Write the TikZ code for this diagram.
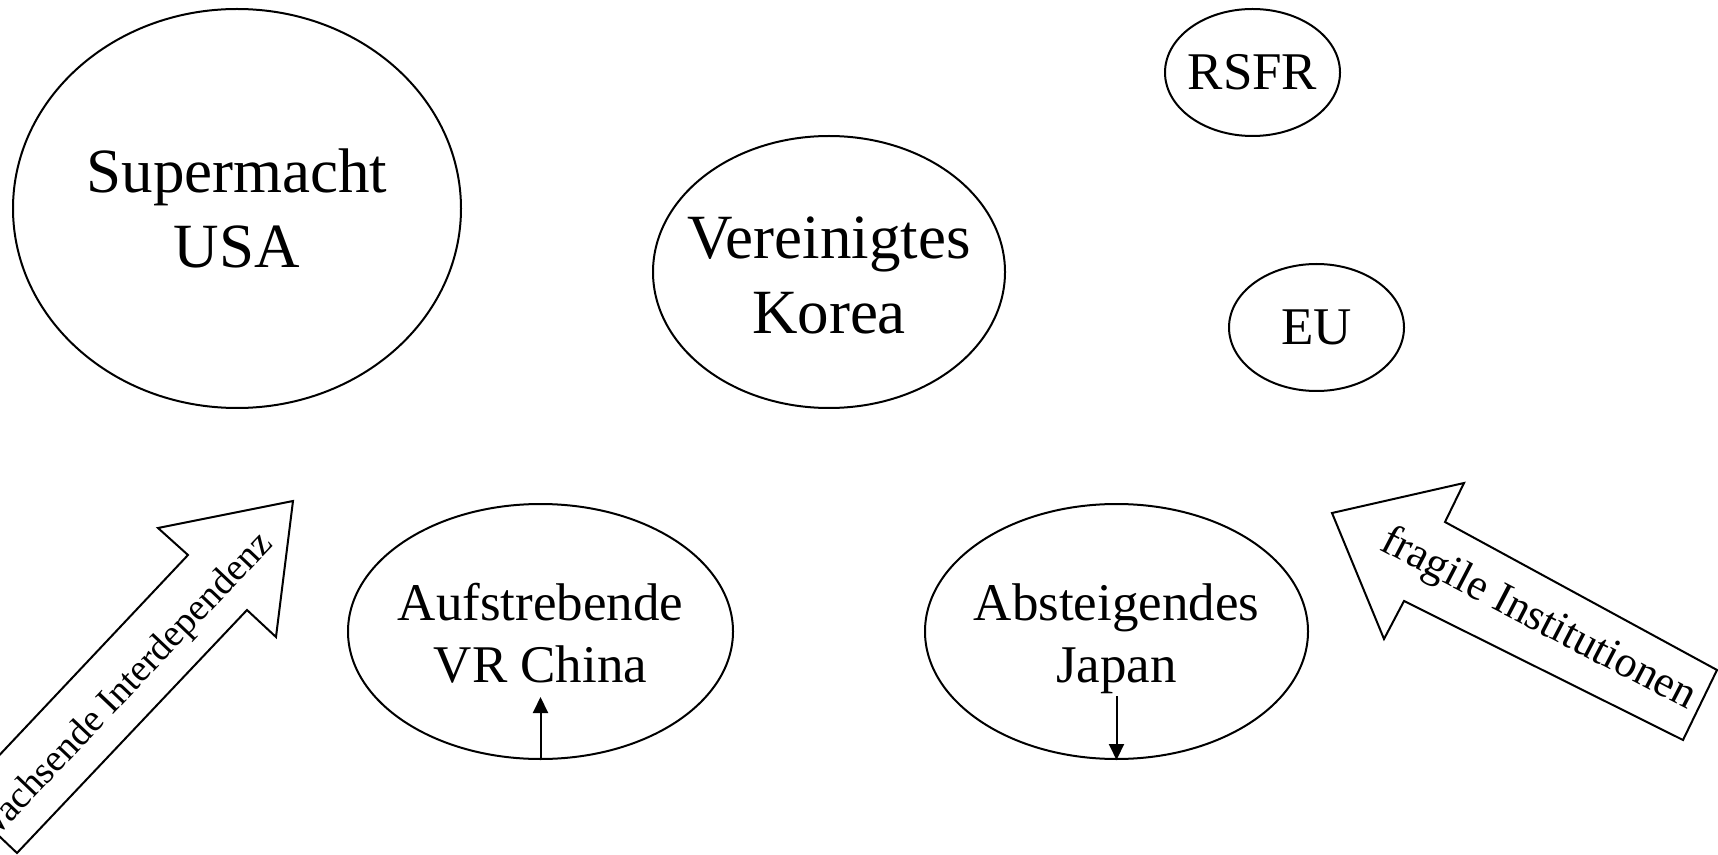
\documentclass[tikz,border=0pt]{standalone}
\usepackage{fontspec}
\setmainfont{Liberation Serif}
\usetikzlibrary{shapes.geometric, arrows.meta}

\begin{document}
\begin{tikzpicture}
      [x=0.5pt, y=-0.5pt,
        power/.style={ellipse, draw, line width=1pt, inner sep=0pt},
        big/.style={align=center, font=\fontsize{31.5}{37.5}\selectfont},
        small/.style={align=center, font=\fontsize{26.5}{31.2}\selectfont},
        trend/.style={draw, line width=1pt, line join=miter},
        tick/.style={line width=1pt, -{Triangle[length=8pt, width=7.5pt]}}]
      \useasboundingbox (0,0) rectangle (1718,855);
      \node[power, minimum width=224pt, minimum height=199.5pt] (usa) at (237,208.5) {};
      \node[big] (usa-text) at (usa) {Supermacht\\USA};
      \node[power, minimum width=176pt, minimum height=136pt] (korea) at (829,272) {};
      \node[big, yshift=-1.5pt] (korea-text) at (korea) {Vereinigtes\\Korea};
      \node[power, minimum width=87.5pt, minimum height=63.5pt] (rsfr) at (1252.5,72.5) {};
      \node[small] (rsfr-text) at (rsfr) {RSFR};
      \node[power, minimum width=87.5pt, minimum height=63.5pt] (eu) at (1316.5,327.5) {};
      \node[small] (eu-text) at (eu) {EU};
      \node[power, minimum width=192.5pt, minimum height=127.5pt] (china) at (540.5,631.5) {};
      \node[small, yshift=-1pt] (china-text) at (china) {Aufstrebende\\VR China};
      \node[power, minimum width=191.5pt, minimum height=127.5pt] (japan) at (1116.5,631.5) {};
      \node[small, yshift=-3.5pt] (japan-text) at (japan) {Absteigendes\\Japan};
      \coordinate (china-up) at (540.5,697);
      \coordinate (japan-down) at (1116.5,696);
      \draw[tick] (china.south) -- (china-up);
      \draw[tick] (japan-down) -- (japan.south);
      \begin{scope}
        \clip (0,0) rectangle (1718,855);
        \draw[trend] (293,501) -- (158,528) -- (188,555) -- (-41,798) -- (17,853)
          -- (247,610) -- (276,637) -- cycle;
        \draw[trend] (1332,513) -- (1464,483) -- (1445,522) -- (1717,670) -- (1683,740)
          -- (1404,601) -- (1384,639) -- cycle;
        \node[rotate=46.5, font=\fontsize{19}{23}\selectfont] (interdep) at (124,690) {Wachsende Interdependenz};
      \end{scope}
      \node[rotate=-27.5, font=\fontsize{22}{26}\selectfont] (institutions) at (1538,620) {fragile Institutionen};
\end{tikzpicture}
\end{document}
